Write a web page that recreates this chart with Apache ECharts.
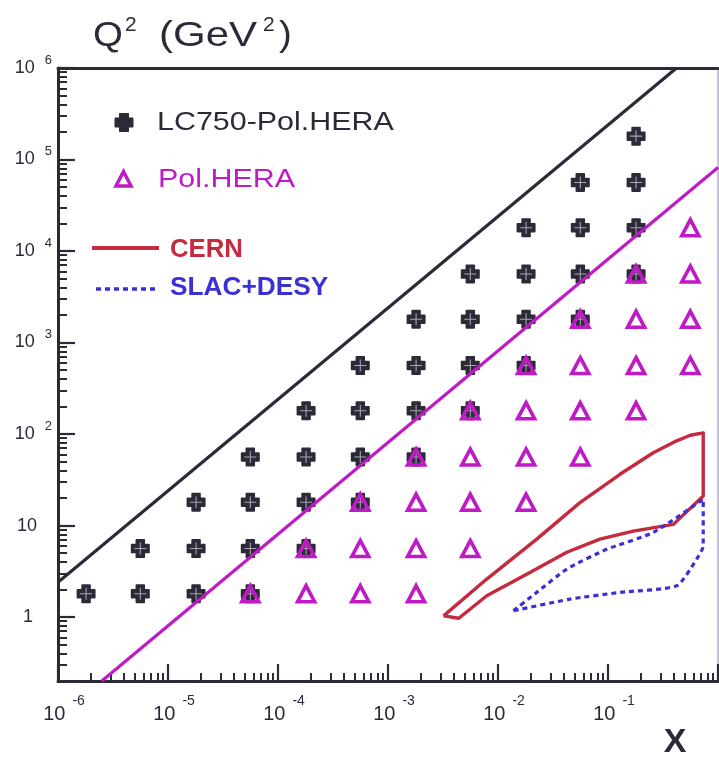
<!DOCTYPE html>
<html>
<head>
<meta charset="utf-8">
<script src="https://cdn.jsdelivr.net/npm/echarts@6/dist/echarts.min.js"></script>
<style>
  html, body { margin: 0; padding: 0; background: #ffffff; }
  #chart { width: 719px; height: 762px; }
</style>
</head>
<body>
<div id="chart"></div>
<script>
// ---- measured (x, Q^2) bins, GeV^2 ----
const lc750Points = [
  [1.8e-6, 1.8], [5.6e-6, 1.8], [1.8e-5, 1.8], [5.6e-5, 1.8],
  [5.6e-6, 5.6], [1.8e-5, 5.6], [5.6e-5, 5.6], [1.8e-4, 5.6],
  [1.8e-5, 18], [5.6e-5, 18], [1.8e-4, 18], [5.6e-4, 18],
  [5.6e-5, 56], [1.8e-4, 56], [5.6e-4, 56], [1.8e-3, 56],
  [1.8e-4, 180], [5.6e-4, 180], [1.8e-3, 180], [5.6e-3, 180],
  [5.6e-4, 560], [1.8e-3, 560], [5.6e-3, 560], [0.018, 560],
  [1.8e-3, 1800], [5.6e-3, 1800], [0.018, 1800], [0.056, 1800],
  [5.6e-3, 5600], [0.018, 5600], [0.056, 5600], [0.18, 5600],
  [0.018, 18000], [0.056, 18000], [0.18, 18000],
  [0.056, 56000], [0.18, 56000],
  [0.18, 180000]
];

const polHeraPoints = [
  [5.6e-5, 1.8], [1.8e-4, 1.8], [5.6e-4, 1.8], [1.8e-3, 1.8],
  [1.8e-4, 5.6], [5.6e-4, 5.6], [1.8e-3, 5.6], [5.6e-3, 5.6],
  [5.6e-4, 18], [1.8e-3, 18], [5.6e-3, 18], [0.018, 18],
  [1.8e-3, 56], [5.6e-3, 56], [0.018, 56], [0.056, 56],
  [5.6e-3, 180], [0.018, 180], [0.056, 180], [0.18, 180],
  [0.018, 560], [0.056, 560], [0.18, 560], [0.56, 560],
  [0.056, 1800], [0.18, 1800], [0.56, 1800],
  [0.18, 5600], [0.56, 5600],
  [0.56, 18000]
];

// kinematic limits (Q^2 = s x), endpoints inside the frame
const lc750Limit = [[1e-6, 2.4], [0.42, 1e6]];
const polHeraLimit = [[2.5e-6, 0.2], [1, 8.2e4]];

// fixed-target coverage contours
const cernContour = [
  [3.2e-3, 1.03], [7.9e-3, 2.6], [0.0225, 7.1], [0.0556, 17.8], [0.1285, 36.3],
  [0.258, 62.5], [0.40, 82], [0.56, 97], [0.734, 103], [0.734, 21], [0.393, 10.3],
  [0.170, 8.7], [0.0845, 7.1], [0.0422, 5.1], [0.0195, 3.07], [7.9e-3, 1.71],
  [4.4e-3, 0.97], [3.2e-3, 1.03]
];
const slacDesyContour = [
  [0.0138, 1.17], [0.0225, 1.86], [0.0422, 3.34], [0.0973, 5.5], [0.258, 8.4],
  [0.734, 19.4], [0.734, 6.0], [0.64, 4.3], [0.422, 2.2], [0.1285, 1.86],
  [0.0452, 1.57], [0.0138, 1.17]
];

// axis ticks
const xMajorTicks = [1e-6, 1e-5, 1e-4, 1e-3, 1e-2, 1e-1, 1];
const yMajorTicks = [1, 10, 100, 1e3, 1e4, 1e5, 1e6];
const minorSteps = [2, 3, 4, 5, 6, 7, 8, 9];
const xDecades = [1e-6, 1e-5, 1e-4, 1e-3, 1e-2, 1e-1];
const yDecades = [0.1, 1, 10, 100, 1e3, 1e4, 1e5];

const X_MIN = 1e-6, X_MAX = 1, Y_MIN = 0.2, Y_MAX = 1e6;

const xMinorTicks = [];
xDecades.forEach(d => minorSteps.forEach(m => xMinorTicks.push(+(d * m).toPrecision(3))));
const yMinorTicks = [];
yDecades.forEach(d => minorSteps.forEach(m => {
  const v = +(d * m).toPrecision(3);
  if (v >= Y_MIN && v <= Y_MAX) yMinorTicks.push(v);
}));

const DARK = '#2d2a38';
const MAG = '#bf1ac6';
const RED = '#c62a3e';
const BLUE = '#3b30d4';
const FONT = '"Liberation Sans", Arial, Helvetica, sans-serif';

const CROSS = 'M6,0 H14 Q15,0 15,1 V5 H19 Q20,5 20,6 V14 Q20,15 19,15 H15 V19 Q15,20 14,20 H6 Q5,20 5,19 V15 H1 Q0,15 0,14 V6 Q0,5 1,5 H5 V1 Q5,0 6,0 Z';
const CROSS_INNER = 'M9.3,2 H10.7 V9.3 H18 V10.7 H10.7 V18 H9.3 V10.7 H2 V9.3 H9.3 Z';

function expOf(v) { return Math.round(Math.log10(v)); }

function fmtX(v) {
  const e = expOf(v);
  return e === 0 ? '{b|1}' : '{b|10}{s|' + e + '}';
}
function fmtY(v) {
  const e = expOf(v);
  if (e === 0) return '{one|1}';
  if (e === 1) return '{ten|10}';
  return '{b|10}{s|' + e + '}';
}

const xLabelRich = {
  b: { fontFamily: FONT, fontSize: 20, lineHeight: 39, color: DARK, padding: [0, 0, 0, 12] },
  s: { fontFamily: FONT, fontSize: 14, lineHeight: 14, color: DARK, padding: [0, 0, 25, 7] }
};
const yLabelRich = {
  b:   { fontFamily: FONT, fontSize: 18, lineHeight: 29, color: DARK },
  s:   { fontFamily: FONT, fontSize: 13, lineHeight: 13, color: DARK, padding: [0, 0, 16, 10] },
  one: { fontFamily: FONT, fontSize: 18, lineHeight: 29, color: DARK, padding: [0, 19, 0, 0] },
  ten: { fontFamily: FONT, fontSize: 18, lineHeight: 29, color: DARK, padding: [0, 15, 0, 0] }
};

function logAxis(extra, min, max) {
  return Object.assign({
    type: 'log', logBase: 10, min: min, max: max,
    splitLine: { show: false }, minorTick: { show: false }, minorSplitLine: { show: false },
    axisLine: { show: false, onZero: false },
    axisTick: { show: false },
    axisLabel: { show: false }
  }, extra);
}

const chart = echarts.init(document.getElementById('chart'), null, { renderer: 'canvas' });

function textEl(x, y, text, font, fill, scaleX, align) {
  return {
    type: 'text', x: x, y: y, scaleX: scaleX || 1,
    style: {
      text: text, font: font, fill: fill,
      align: align || 'left', verticalAlign: 'middle',
      textAlign: align || 'left', textVerticalAlign: 'middle'
    }
  };
}

chart.setOption({
  backgroundColor: '#ffffff',
  animation: false,
  grid: { left: 58, top: 68, right: 1, bottom: 81, containLabel: false, outerBoundsMode: 'none' },
  xAxis: [
    logAxis({
      position: 'bottom',
      axisLine: { show: true, onZero: false, lineStyle: { color: DARK, width: 3 } },
      axisTick: { show: true, inside: true, length: 17, customValues: xMajorTicks, lineStyle: { color: DARK, width: 2.2 } },
      axisLabel: { show: true, customValues: xMajorTicks, formatter: fmtX, margin: 13.5, rich: xLabelRich }
    }, X_MIN, X_MAX),
    logAxis({
      position: 'bottom',
      axisTick: { show: true, inside: true, length: 8, customValues: xMinorTicks, lineStyle: { color: DARK, width: 2 } }
    }, X_MIN, X_MAX),
    logAxis({
      position: 'top',
      axisLine: { show: true, onZero: false, lineStyle: { color: DARK, width: 3 } }
    }, X_MIN, X_MAX)
  ],
  yAxis: [
    logAxis({
      position: 'left',
      axisLine: { show: true, onZero: false, lineStyle: { color: DARK, width: 3 } },
      axisTick: { show: true, inside: true, length: 17, customValues: yMajorTicks, lineStyle: { color: DARK, width: 2.2 } },
      axisLabel: { show: true, customValues: yMajorTicks, formatter: fmtY, margin: 6, rich: yLabelRich }
    }, Y_MIN, Y_MAX),
    logAxis({
      position: 'left',
      axisTick: { show: true, inside: true, length: 9, customValues: yMinorTicks, lineStyle: { color: DARK, width: 2 } }
    }, Y_MIN, Y_MAX),
    logAxis({
      position: 'right',
      axisLine: { show: true, onZero: false, lineStyle: { color: '#c4c0da', width: 2 } }
    }, Y_MIN, Y_MAX)
  ],
  series: [
    {
      name: 'LC750-Pol.HERA', type: 'scatter', xAxisIndex: 0, yAxisIndex: 0,
      data: lc750Points, symbol: 'path://' + CROSS, symbolSize: 19,
      itemStyle: { color: DARK, opacity: 1 }, z: 3, silent: true
    },
    {
      name: 'LC750-Pol.HERA inner', type: 'scatter', xAxisIndex: 0, yAxisIndex: 0,
      data: lc750Points, symbol: 'path://' + CROSS_INNER, symbolSize: 12,
      itemStyle: { color: '#aaa5b2', opacity: 1 }, z: 4, silent: true
    },
    {
      name: 'Pol.HERA', type: 'scatter', xAxisIndex: 0, yAxisIndex: 0,
      data: polHeraPoints, symbol: 'triangle', symbolSize: [17, 16],
      itemStyle: { color: 'rgba(0,0,0,0)', borderColor: MAG, borderWidth: 3.6, opacity: 1 },
      z: 5, silent: true
    },
    {
      name: 'LC750 limit', type: 'line', xAxisIndex: 0, yAxisIndex: 0,
      data: lc750Limit, symbol: 'none', clip: true,
      lineStyle: { color: DARK, width: 3.2 }, z: 6, silent: true
    },
    {
      name: 'Pol.HERA limit', type: 'line', xAxisIndex: 0, yAxisIndex: 0,
      data: polHeraLimit, symbol: 'none', clip: true,
      lineStyle: { color: MAG, width: 3.2 }, z: 6, silent: true
    },
    {
      name: 'CERN', type: 'line', xAxisIndex: 0, yAxisIndex: 0,
      data: cernContour, symbol: 'none', clip: true,
      lineStyle: { color: RED, width: 3.4, join: 'round' }, z: 7, silent: true
    },
    {
      name: 'SLAC+DESY', type: 'line', xAxisIndex: 0, yAxisIndex: 0,
      data: slacDesyContour, symbol: 'none', clip: true, smooth: 0.2,
      lineStyle: { color: BLUE, width: 3.2, type: [5, 4] }, z: 7, silent: true
    }
  ],
  graphic: [
    // axis titles
    textEl(93, 36, 'Q', '35px ' + FONT, DARK, 1.1),
    textEl(125, 25, '2', '21px ' + FONT, DARK),
    textEl(159, 36, '(GeV', '35px ' + FONT, DARK, 1.2),
    textEl(263, 25, '2', '21px ' + FONT, DARK),
    textEl(279, 36, ')', '35px ' + FONT, DARK, 1.1),
    textEl(675, 743, 'X', 'bold 34px ' + FONT, DARK, 1, 'center'),

    // key
    { type: 'polygon',
      shape: { points: [[119.5, 113.5], [128.5, 113.5], [128.5, 118], [133, 118], [133, 127], [128.5, 127],
                        [128.5, 131.5], [119.5, 131.5], [119.5, 127], [115, 127], [115, 118], [119.5, 118]] },
      style: { fill: DARK, stroke: DARK, lineWidth: 1, lineJoin: 'round' } },
    textEl(157, 123, 'LC750-Pol.HERA', '26px ' + FONT, DARK, 1.17),
    { type: 'polygon', shape: { points: [[123.5, 171.5], [131, 186], [116, 186]] },
      style: { fill: 'none', stroke: MAG, lineWidth: 3.5 } },
    textEl(158, 180, 'Pol.HERA', '26px ' + FONT, MAG, 1.17),
    { type: 'line', shape: { x1: 92, y1: 248, x2: 159, y2: 248 },
      style: { stroke: RED, lineWidth: 4 } },
    textEl(170, 250, 'CERN', 'bold 25px ' + FONT, RED, 1.03),
    { type: 'line', shape: { x1: 96, y1: 289, x2: 156, y2: 289 },
      style: { stroke: BLUE, lineWidth: 3.3, lineDash: [5, 4] } },
    textEl(170, 288, 'SLAC+DESY', 'bold 25px ' + FONT, BLUE, 1.05)
  ]
});
</script>
</body>
</html>
